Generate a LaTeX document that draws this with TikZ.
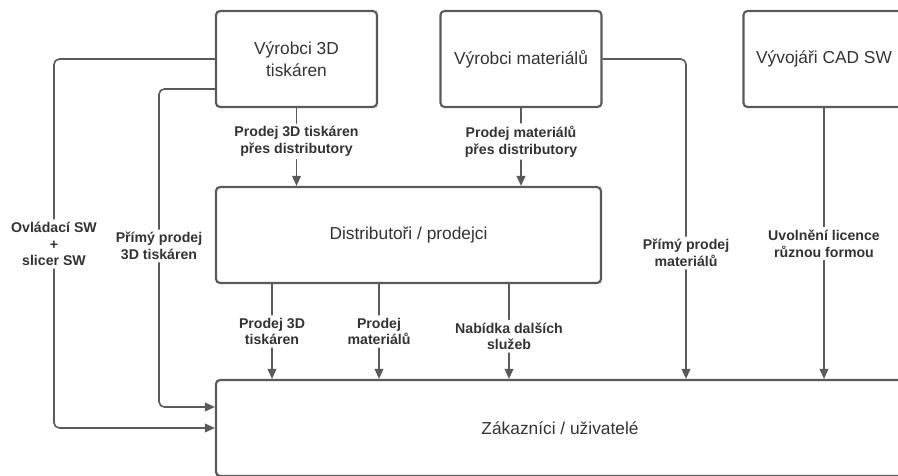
\documentclass[tikz,border=0pt]{standalone}
\usepackage{fontspec}
\setmainfont{Liberation Sans}
\usetikzlibrary{arrows.meta,calc}
\definecolor{linegray}{HTML}{5A5A5A}
\definecolor{textgray}{HTML}{333333}

\begin{document}
\begin{tikzpicture}[
   x=0.75pt, y=-0.75pt,
   every node/.style={text=textgray},
   box/.style={draw=linegray, line width=1.6pt, rounded corners=3pt,
      minimum width=161*0.75pt, minimum height=96*0.75pt, align=center,
      font=\fontsize{13}{16.5}\selectfont},
   flow/.style={draw=linegray, line width=1.2pt, rounded corners=4pt,
      -{Triangle[length=7.5pt,width=6.5pt]}},
   lbl/.style={fill=white, inner sep=2pt, align=center,
      font=\bfseries\fontsize{10.6}{12.5}\selectfont}]

\useasboundingbox (0,0) rectangle (898,475);
\clip (0,0) rectangle (898,475);

% boxes
\node[box] (v3d) at (296.5,59) {Výrobci 3D\\tiskáren};
\node[box] (mat) at (521,59) {Výrobci materiálů};
\node[box] (cad) at (824,59) {Vývojáři CAD SW};
\node[box, minimum width=385*0.75pt] (dist) at (408.5,235) {Distributoři / prodejci};
\node[box, minimum width=688*0.75pt] (zak) at (560,428) {Zákazníci / uživatelé};

% to distributors
\draw[flow] (v3d.south) -- node[lbl, pos=0.43] {Prodej 3D tiskáren\\přes distributory} (v3d.south |- dist.north);
\draw[flow] (mat.south) -- node[lbl, pos=0.43] {Prodej materiálů\\přes distributory} (mat.south |- dist.north);

% direct ways to customers
\draw[flow] (v3d.west) -| (54,244) node[lbl] {Ovládací SW\\+\\slicer SW} |- (zak.west);
\draw[flow] ($(v3d.west)+(0,30)$) -| (159,246) node[lbl] {Přímý prodej\\3D tiskáren} |- ($(zak.west)+(0,-21)$);
\draw[flow] (mat.east) -| (686,253) node[lbl] {Přímý prodej\\materiálů} -- (zak.north -| 686,0);
\draw[flow] (cad.south) -- node[lbl] {Uvolnění licence\\různou formou} (cad.south |- zak.north);

% from distributors
\draw[flow] (dist.south -| 272,0) -- node[lbl] {Prodej 3D\\tiskáren} (zak.north -| 272,0);
\draw[flow] (dist.south -| 379,0) -- node[lbl] {Prodej\\materiálů} (zak.north -| 379,0);
\draw[flow] (dist.south -| 509,0) -- node[lbl, pos=0.55] {Nabídka dalších\\služeb} (zak.north -| 509,0);

\end{tikzpicture}
\end{document}
